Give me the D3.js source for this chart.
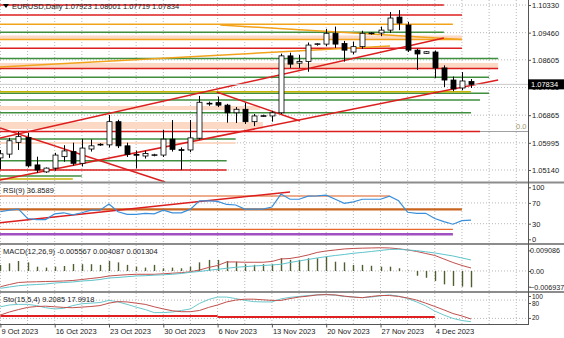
<!DOCTYPE html>
<html><head><meta charset="utf-8">
<script src="https://cdn.jsdelivr.net/npm/d3@7"></script>
<style>body{margin:0;background:#fff;overflow:hidden}svg{display:block;font-family:"Liberation Sans",Arial,sans-serif}</style>
</head><body><svg id="c" width="564" height="338"></svg>
<script>
// ---------- DATA ----------
const dates = ["2023-10-09","2023-10-10","2023-10-11","2023-10-12","2023-10-13",
"2023-10-15","2023-10-16","2023-10-17","2023-10-18","2023-10-19","2023-10-20",
"2023-10-22","2023-10-23","2023-10-24","2023-10-25","2023-10-26","2023-10-27",
"2023-10-29","2023-10-30","2023-10-31","2023-11-01","2023-11-02","2023-11-03",
"2023-11-05","2023-11-06","2023-11-07","2023-11-08","2023-11-09","2023-11-10",
"2023-11-12","2023-11-13","2023-11-14","2023-11-15","2023-11-16","2023-11-17",
"2023-11-19","2023-11-20","2023-11-21","2023-11-22","2023-11-23","2023-11-24",
"2023-11-26","2023-11-27","2023-11-28","2023-11-29","2023-11-30","2023-12-01",
"2023-12-03","2023-12-04","2023-12-05","2023-12-06","2023-12-07","2023-12-08"];
const open  = [1.0552,1.0564,1.0601,1.0616,1.0530, 1.0508,1.0520,1.0556,1.0572,1.0535,1.0580, 1.0594,1.0593,1.0666,1.0590,1.0563,1.0558, 1.0561,1.0561,1.0611,1.0578,1.0577,1.0614, 1.0722,1.0726,1.0718,1.0694,1.0705,1.0666, 1.0684,1.0684,1.0694,1.0873,1.0850,1.0855, 1.0909,1.0910,1.0944,1.0912,1.0885,1.0902, 1.0944,1.0945,1.0954,1.0995,1.0970,1.0891, 1.0881,1.0885,1.0835,1.0797,1.0772,1.07923];
const high  = [1.0577,1.0615,1.0634,1.0631,1.0556, 1.0522,1.0568,1.0592,1.0600,1.0612,1.0610, 1.0598,1.0687,1.0672,1.0600,1.0575,1.0575, 1.0565,1.0640,1.0671,1.0585,1.0671,1.0747, 1.0729,1.0745,1.0722,1.0712,1.0725,1.0690, 1.0688,1.0700,1.0880,1.0883,1.0876,1.0915, 1.0913,1.0958,1.0965,1.0920,1.0918,1.0952, 1.0947,1.0965,1.1011,1.1017,1.0980,1.0895, 1.0888,1.0890,1.0843,1.0808,1.0822,1.08001];
const low   = [1.0516,1.0552,1.0577,1.0522,1.0505, 1.0505,1.0512,1.0540,1.0528,1.0525,1.0572, 1.0590,1.0585,1.0583,1.0555,1.0519,1.0550, 1.0557,1.0555,1.0572,1.0514,1.0570,1.0610, 1.0716,1.0712,1.0663,1.0662,1.0659,1.0652, 1.0681,1.0666,1.0690,1.0835,1.0835,1.0823, 1.0905,1.0903,1.0898,1.0855,1.0878,1.0895, 1.0940,1.0935,1.0945,1.0954,1.0885,1.0829, 1.0879,1.0803,1.0775,1.0762,1.0765,1.07719];
const close = [1.0565,1.0606,1.0619,1.0527,1.0514, 1.0520,1.0561,1.0574,1.0535,1.0583,1.0590, 1.0595,1.0666,1.0590,1.0563,1.0561,1.0566, 1.0562,1.0611,1.0579,1.0577,1.0615,1.0727, 1.0724,1.0718,1.0694,1.0705,1.0666,1.0684, 1.0685,1.0694,1.0873,1.0847,1.0855,1.0907, 1.0911,1.0944,1.0910,1.0891,1.0902,1.0944, 1.0945,1.0954,1.0992,1.0976,1.0891,1.0879, 1.0886,1.0835,1.0797,1.0769,1.0794,1.07834];

const rsi = [53,56,58,40,38,38,49,51,47,51,56,56,68,53,48,48,50,49,56,51,51,58,74,74,73,67,66,58,58,58,62,87,77,77,83,83.5,85,77,69,72,77,77,77,83,74,52,50,50,40,34,29,36,36.8589];

const macdHist = [0.00265,0.0034,0.0044,0.0038,0.0019,0.0015,0.0019,0.0022,0.0031,0.0030,0.0030,0.0027,0.0044,0.0038,0.0027,0.0019,0.0015,0.0027,0.0012,0.0015,0.0012,0.0019,0.0038,0.0049,0.0049,0.0044,0.0041,0.0030,0.0027,0.0030,0.0030,0.0057,0.0049,0.0049,0.0056,0.0056,0.0063,0.0041,0.0038,0.0027,0.0027,0.0023,0.0019,0.0019,0.0012,0.0002,-0.0021,-0.0030,-0.0044,-0.0059,-0.0066,-0.0069,-0.0072];
const macdRed = [-0.00694,-0.00597,-0.00508,-0.00486,-0.00477,-0.00464,-0.00455,-0.00442,-0.00420,-0.00376,-0.00331,-0.00287,-0.00221,-0.00190,-0.00164,-0.00146,-0.00146,-0.00146,-0.00124,-0.00097,-0.00075,-0.00035,0.00044,0.00155,0.00243,0.00398,0.00398,0.00385,0.00385,0.00385,0.00420,0.00530,0.00552,0.00619,0.00707,0.00818,0.00884,0.00928,0.00972,0.00994,0.01007,0.01016,0.01025,0.01016,0.00981,0.00928,0.00862,0.00773,0.00685,0.00530,0.00375,0.00243,0.00133];
const macdCyan = [-0.00765,-0.00707,-0.00650,-0.00619,-0.00597,-0.00575,-0.00530,-0.00508,-0.00486,-0.00442,-0.00420,-0.00376,-0.00309,-0.00287,-0.00252,-0.00221,-0.00208,-0.00186,-0.00168,-0.00146,-0.00110,-0.00057,-0.00022,0.00031,0.00075,0.00119,0.00163,0.00190,0.00221,0.00243,0.00265,0.00296,0.00375,0.00442,0.00508,0.00575,0.00632,0.00685,0.00729,0.00782,0.00818,0.00862,0.00906,0.00950,0.00959,0.00928,0.00897,0.00848,0.00795,0.00729,0.00663,0.00574,0.00486];

const stoMain = [58,64,66,66,62,55,51,53,62,68,70,72,79,74,66,57,49,39,39,41,46,51,69,82,90,90,85,79,75,74,74,84,89,92,95,97,98,96,92,90,88,90,94,97,93,85,74,61,44,31,20,13,9.2085];
const stoSignal = [31,41,49,56,59,60,58,56,55,57,59,62,70,75,74,70,66,58,51,45,42,42,46,56,64,74,80,83,83,81,79,79,85,90,93,97,98,97,93,90,88,92,95,95,92,87,80,70,59,48,36,28,17.9918];

const priceTicks = [1.10330,1.09460,1.08605,1.07735,1.06865,1.05995,1.05140];
const rsiTicks = [100,70,30,0];
const macdTicks = [0.009086,0.00,-0.006937];
const stoTicks = [100,80,20];
const weekIdx = [0,6,12,18,24,30,36,42,48];
const weekLabels = ["9 Oct 2023","16 Oct 2023","23 Oct 2023","30 Oct 2023","6 Nov 2023","13 Nov 2023","20 Nov 2023","27 Nov 2023","4 Dec 2023"];

// drawn objects (price levels, end bar index)
const redLevels   = [[1.10330,49],[1.10015,51],[1.08968,51],[1.08333,55],[1.06351,53],[1.05140,25]];
const greenLevels = [[1.09471,49],[1.08647,55],[1.08056,54],[1.07552,54],[1.07342,53],[1.06942,52],[1.06115,26],[1.05432,25],[1.04951,9]];
const orangeLevels= [[1.09723,50],[1.09245,51]];
const oliveLevels = [[1.07603,52],[1.04857,8]];
const bands = [[1.09371,1.09245,51],[1.08506,1.08348,55],[1.07153,1.07027,28.7],[1.06650,1.06430,29],[1.06020,1.05958,26]];
const redTrends = [[-0.04,1.06146,49,1.09292],[-0.04,1.04825,55,1.07971],[-0.04,1.06461,18.2,1.04762],[23.9,1.07593,33.1,1.06681]];
const orangeTrends = [[-0.04,1.08380,43.05,1.09040],[24.3,1.09701,51,1.09245]];
const rsiLevels = [[83.3,43],[57.7,51],[19.2,50],[9.6,50]];
const rsiTrend = [-0.04,31.9,32,91];
const stoLevels = [[28,0,24],[25,24,48]];

// ---------- SCALES ----------
const svg = d3.select("#c");
const W = 528;
const x = d3.scaleLinear().domain([0,58]).range([0.4, 525.3]);
const yP = d3.scaleLinear().domain([1.05140,1.10330]).range([170,5]);
const yR = d3.scaleLinear().domain([0,100]).range([239.3,187.3]);
const yM = d3.scaleLinear().domain([-0.006937,0.009086]).range([286.7,250.4]);
const yS = d3.scaleLinear().domain([0,100]).range([324.5,294]);

const panels = {main:[0,182],rsi:[184,243],macd:[245,291],sto:[293,324]};
const defs = svg.append("defs");
Object.entries(panels).forEach(([k,[a,b]])=>{
  defs.append("clipPath").attr("id","clip-"+k).append("rect").attr("x",0).attr("y",a).attr("width",W).attr("height",b-a);
});
const g = k => svg.append("g").attr("clip-path",`url(#clip-${k})`);

const RED="#dc1e1e", GREEN="#3f8f3f", ORANGE="#f2a31b", OLIVE="#c8b400", PEACH="#fbd9c4", GRID="#b8b8b8";

// ---------- GRID ----------
const gridIdx = d3.range(0,59,3);
Object.entries(panels).forEach(([k,[a,b]])=>{
  g(k).selectAll("line").data(gridIdx).join("line")
    .attr("x1",d=>x(d)).attr("x2",d=>x(d)).attr("y1",a).attr("y2",b)
    .attr("stroke",GRID).attr("stroke-dasharray","1,2");
});
const mg = g("main");
mg.selectAll(".hg").data(priceTicks).join("line").attr("class","hg")
  .attr("x1",0).attr("x2",W).attr("y1",d=>yP(d)).attr("y2",d=>yP(d))
  .attr("stroke",GRID).attr("stroke-dasharray","1,2");

// ---------- MAIN OBJECTS ----------
mg.selectAll(".band").data(bands).join("rect").attr("class","band")
  .attr("x",0).attr("width",d=>x(d[2])).attr("y",d=>yP(d[0])).attr("height",d=>yP(d[1])-yP(d[0]))
  .attr("fill",PEACH);
function levels(data,color,w){
  mg.append("g").selectAll("line").data(data).join("line")
    .attr("x1",0).attr("x2",d=>x(d[1])).attr("y1",d=>yP(d[0])).attr("y2",d=>yP(d[0]))
    .attr("stroke",color).attr("stroke-width",w);
}
levels(greenLevels,GREEN,1.4);
levels(orangeLevels,ORANGE,1.6);
levels(oliveLevels,OLIVE,1.4);
levels(redLevels,RED,1.4);
// fib 0.0 extension
mg.append("line").attr("x1",x(53)).attr("x2",W).attr("y1",yP(1.06351)).attr("y2",yP(1.06351)).attr("stroke","#a0a0a0").attr("stroke-width",1);
mg.append("text").attr("x",516).attr("y",yP(1.06351)-3).attr("font-size",7.5).attr("fill","#9a9a6a").text("0.0");
function trends(data,color,w){
  mg.append("g").selectAll("line").data(data).join("line")
    .attr("x1",d=>x(d[0])).attr("y1",d=>yP(d[1])).attr("x2",d=>x(d[2])).attr("y2",d=>yP(d[3]))
    .attr("stroke",color).attr("stroke-width",w);
}
trends(orangeTrends,ORANGE,1.5);
trends(redTrends,RED,1.5);
// bid line
mg.append("line").attr("x1",0).attr("x2",W).attr("y1",yP(close[52])).attr("y2",yP(close[52])).attr("stroke","#c8c8c8");

// ---------- CANDLES ----------
const idx = d3.range(dates.length);
const cg = mg.append("g");
cg.selectAll(".wick").data(idx).join("line").attr("class","wick")
  .attr("x1",i=>Math.round(x(i))+0.5).attr("x2",i=>Math.round(x(i))+0.5)
  .attr("y1",i=>yP(high[i])).attr("y2",i=>yP(low[i])).attr("stroke","#000");
cg.selectAll(".body").data(idx).join("rect").attr("class","body")
  .attr("x",i=>Math.round(x(i))-2).attr("width",5)
  .attr("y",i=>yP(Math.max(open[i],close[i])))
  .attr("height",i=>Math.max(0.8,Math.abs(yP(open[i])-yP(close[i]))))
  .attr("fill",i=>close[i]>=open[i]?"#fff":"#000").attr("stroke","#000").attr("stroke-width",0.8);

// header
svg.append("path").attr("d","M3,4 L9,4 L6,8 Z").attr("fill","#000");
svg.append("text").attr("x",12).attr("y",9).attr("font-size",7.5).attr("fill","#222")
  .text(`EURUSD,Daily  ${open[52].toFixed(5)} ${high[52].toFixed(5)} ${low[52].toFixed(5)} ${close[52].toFixed(5)}`);

// ---------- RSI ----------
const rg = g("rsi");
rg.selectAll(".hg").data([70,30]).join("line").attr("x1",0).attr("x2",W)
  .attr("y1",d=>yR(d)).attr("y2",d=>yR(d)).attr("stroke",GRID).attr("stroke-dasharray","1,2");
const rsiCol = ["#e05a1a","#c8641e","#e86a2a","#a050c0"], rsiW=[1.2,2.2,1.2,2.6];
rg.selectAll(".lv").data(rsiLevels).join("line").attr("class","lv")
  .attr("x1",0).attr("x2",d=>x(d[1])).attr("y1",d=>yR(d[0])).attr("y2",d=>yR(d[0]))
  .attr("stroke",(d,i)=>rsiCol[i]).attr("stroke-width",(d,i)=>rsiW[i]);
rg.append("line").attr("x1",x(rsiTrend[0])).attr("y1",yR(rsiTrend[1])).attr("x2",x(rsiTrend[2])).attr("y2",yR(rsiTrend[3]))
  .attr("stroke",RED).attr("stroke-width",1.5);
rg.append("path").datum(idx).attr("fill","none").attr("stroke","#3b8fd9").attr("stroke-width",1.2)
  .attr("d",d3.line().x(i=>x(i)).y(i=>yR(rsi[i])));
svg.append("text").attr("x",3).attr("y",193).attr("font-size",7.5).attr("fill","#222").text(`RSI(9) ${rsi[52]}`);

// ---------- MACD ----------
const mcg = g("macd");
mcg.append("line").attr("x1",0).attr("x2",W).attr("y1",yM(0)).attr("y2",yM(0)).attr("stroke",GRID).attr("stroke-dasharray","1,2");
mcg.selectAll(".h").data(idx).join("line").attr("class","h")
  .attr("x1",i=>Math.round(x(i))+0.5).attr("x2",i=>Math.round(x(i))+0.5)
  .attr("y1",yM(0)).attr("y2",i=>yM(macdHist[i])).attr("stroke","#4f5f2f").attr("stroke-width",1.4);
mcg.append("path").datum(idx).attr("fill","none").attr("stroke","#c0504d").attr("stroke-width",1)
  .attr("d",d3.line().x(i=>x(i)).y(i=>yM(macdRed[i])));
mcg.append("path").datum(idx).attr("fill","none").attr("stroke","#5ec4cc").attr("stroke-width",1)
  .attr("d",d3.line().x(i=>x(i)).y(i=>yM(macdCyan[i])));
svg.append("text").attr("x",3).attr("y",254).attr("font-size",7.5).attr("fill","#222").text("MACD(12,26,9) -0.005567 0.004087 0.001304");

// ---------- STO ----------
const sg = g("sto");
sg.selectAll(".hg").data([80,20]).join("line").attr("x1",0).attr("x2",W)
  .attr("y1",d=>yS(d)).attr("y2",d=>yS(d)).attr("stroke",GRID).attr("stroke-dasharray","1,2");
sg.selectAll(".lv").data(stoLevels).join("line").attr("class","lv")
  .attr("x1",d=>x(d[1])).attr("x2",d=>x(d[2])).attr("y1",d=>yS(d[0])).attr("y2",d=>yS(d[0]))
  .attr("stroke","#e02020").attr("stroke-width",2);
sg.append("path").datum(idx).attr("fill","none").attr("stroke","#6cc8cc").attr("stroke-width",1)
  .attr("d",d3.line().x(i=>x(i)).y(i=>yS(stoMain[i])));
sg.append("path").datum(idx).attr("fill","none").attr("stroke","#c0504d").attr("stroke-width",1)
  .attr("d",d3.line().x(i=>x(i)).y(i=>yS(stoSignal[i])));
svg.append("text").attr("x",3).attr("y",302).attr("font-size",7.5).attr("fill","#222").text(`Sto(15,5,4) ${stoMain[52]} ${stoSignal[52]}`);

// ---------- FRAMES & AXES ----------
[182.5,244,292].forEach(yy=>svg.append("line").attr("x1",0).attr("x2",564).attr("y1",yy).attr("y2",yy).attr("stroke","#8c8c8c").attr("stroke-width",2));
svg.append("line").attr("x1",0).attr("x2",W).attr("y1",324.5).attr("y2",324.5).attr("stroke","#555");
svg.append("line").attr("x1",W+0.5).attr("x2",W+0.5).attr("y1",0).attr("y2",325).attr("stroke","#555");

function rightAxis(scale,ticks,fmt,fs,tx){
  const a = svg.append("g").attr("transform",`translate(${W},0)`)
    .call(d3.axisRight(scale).tickValues(ticks).tickSize(3).tickFormat(fmt));
  a.select(".domain").remove();
  a.selectAll("text").attr("font-size",fs||7.5).attr("font-family","Liberation Sans, Arial").attr("fill","#222").attr("x",tx||4);
  a.selectAll("line").attr("stroke","#555");
  return a;
}
rightAxis(yP,priceTicks,d3.format(".5f"));
// current price box
svg.append("rect").attr("x",W).attr("y",yP(close[52])-5).attr("width",36).attr("height",10).attr("fill","#000");
svg.append("text").attr("x",W+3).attr("y",yP(close[52])+3).attr("font-size",7.5).attr("fill","#fff").text(close[52].toFixed(5));
rightAxis(yR,rsiTicks,d3.format("d"));
rightAxis(yM,macdTicks,d=>d===0?"0.00":d3.format(".6f")(d),7.2,2);
const sa = rightAxis(yS,stoTicks,d3.format("d"),6.5);
sa.selectAll(".tick").attr("transform",d=>`translate(0,${d===20?yS(20):(d===100?296.5:303.5)})`);

const xa = svg.append("g").attr("transform","translate(0,324.5)")
  .call(d3.axisBottom(x).tickValues(weekIdx).tickSize(3).tickFormat((d,i)=>weekLabels[i]));
xa.select(".domain").remove();
xa.selectAll("line").attr("stroke","#555");
xa.selectAll("text").attr("font-size",7.5).attr("font-family","Liberation Sans, Arial").attr("fill","#222")
  .attr("text-anchor","start").attr("dx",0.5).attr("y",4);
</script></body></html>
